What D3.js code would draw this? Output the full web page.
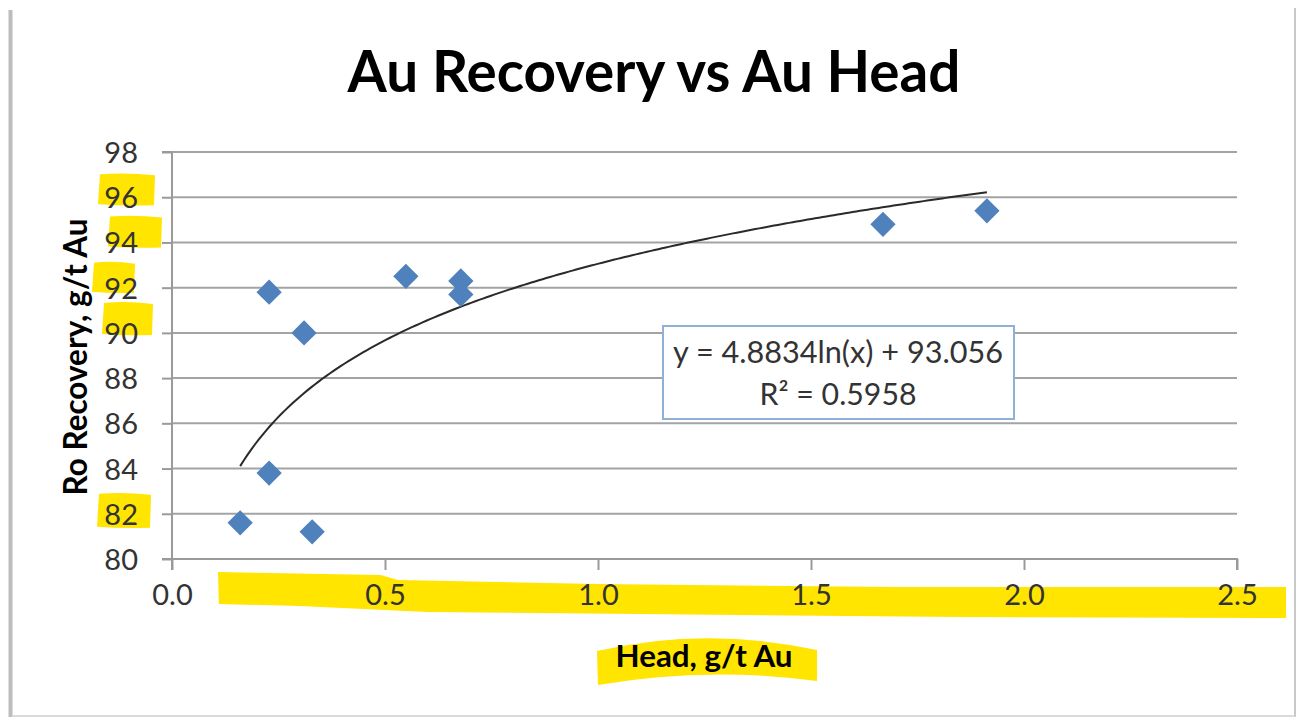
<!DOCTYPE html>
<html><head><meta charset="utf-8">
<script src="https://cdn.jsdelivr.net/npm/d3@7"></script>
<style>html,body{margin:0;padding:0;background:#fff;}svg{display:block;}</style>
</head><body>
<svg id="c" width="1302" height="717"></svg>
<script>
// ---- data ----
const headGt   = [0.160, 0.228, 0.228, 0.310, 0.329, 0.549, 0.678, 0.678, 1.669, 1.913];
const recovery = [81.6, 91.8, 83.8, 90.0, 81.2, 92.5, 92.3, 91.7, 94.8, 95.4];
const xTicks = [0.0, 0.5, 1.0, 1.5, 2.0, 2.5];
const yTicks = [80, 82, 84, 86, 88, 90, 92, 94, 96, 98];
const trendCoef = [4.8834, 93.056]; // y = a ln(x) + b
const trendText = ["y = 4.8834ln(x) + 93.056", "R² = 0.5958"];
const highlightedY = [96, 94, 92, 90, 82];
const title = "Au Recovery vs Au Head";
const xTitle = "Head, g/t Au";
const yTitle = "Ro Recovery, g/t Au";

const svg = d3.select("#c");
const W = 1302, H = 717;
const x = d3.scaleLinear().domain([0, 2.5]).range([172, 1237]);
const y = d3.scaleLinear().domain([80, 98]).range([559, 152]);
const YEL = "#FFE500";
const FONT = "Lato, 'Open Sans', sans-serif";

function fit(sel, target) {
  const n = sel.node();
  const fs = parseFloat(sel.attr("font-size"));
  const w = n.getComputedTextLength();
  if (w > 0) sel.attr("font-size", (fs * target / w).toFixed(2));
}

// frame
svg.append("rect").attr("x",0).attr("y",0).attr("width",W).attr("height",H).attr("fill","#fff");
svg.append("line").attr("x1",10.5).attr("x2",10.5).attr("y1",10).attr("y2",717).attr("stroke","#BDBDBD").attr("stroke-width",4);
svg.append("line").attr("x1",1295).attr("x2",1295).attr("y1",8).attr("y2",717).attr("stroke","#C8C8C8").attr("stroke-width",2);
svg.append("line").attr("x1",12).attr("x2",1295).attr("y1",716).attr("y2",716).attr("stroke","#DADADA").attr("stroke-width",2);

// highlights (hand-drawn marker)
const yHl = {96:[-41,17,-24,8],94:[-31,24,-27,5],92:[-47,-3,-26,5],90:[-37,15,-31,2],82:[-42,13,-21,14]};
highlightedY.forEach(t => {
  const [a,b,c,d] = yHl[t];
  const cy = y(t), rx = 138;
  svg.append("path")
    .attr("d", `M${rx+a+3},${cy+c+1} Q${(rx*2+a+b)/2},${cy+c-1} ${rx+b},${cy+c+2} L${rx+b-1},${cy+d} Q${(rx*2+a+b)/2},${cy+d+1} ${rx+a+1},${cy+d-1} Z`)
    .attr("fill", YEL);
});
svg.append("path")
  .attr("d", `M${x(0.108)},572 L${x(0.49)},575 L${x(0.53)},580 L${x(1.0)},584 L${x(1.7)},587 L1286,587 L1286,618 L${x(1.85)},617 L${x(1.1)},614 L${x(0.6)},612 L${x(0.3)},606 L${x(0.11)},604 Z`)
  .attr("fill", YEL);
svg.append("path")
  .attr("d", "M597,651 Q705,626 817,650 L817,681 Q705,666 598,685 Z")
  .attr("fill", YEL);

// gridlines
svg.append("g").selectAll("line").data(yTicks.filter(t => t > 80)).join("line")
  .attr("x1", x(0)).attr("x2", x(2.5))
  .attr("y1", d => y(d)).attr("y2", d => y(d))
  .attr("stroke", "#A3A3A3").attr("stroke-width", 2);

// axes
const yAx = svg.append("g").attr("transform", `translate(${x(0)},0)`)
  .call(d3.axisLeft(y).tickValues(yTicks).tickSize(10).tickPadding(24).tickFormat(d3.format("d")));
const xAx = svg.append("g").attr("transform", `translate(0,${y(80)})`)
  .call(d3.axisBottom(x).tickValues(xTicks).tickSize(11).tickPadding(14).tickFormat(d3.format(".1f")));
[yAx, xAx].forEach(g => {
  g.select(".domain").attr("stroke", "#9A9A9A").attr("stroke-width", 2);
  g.selectAll(".tick line").attr("stroke", "#9A9A9A").attr("stroke-width", 2);
  g.selectAll(".tick text").attr("font-family", FONT).attr("font-size", 29).attr("fill", "#333");
});
xAx.select(".domain").attr("d", `M${x(0)},11V0H${x(2.5)}V11`);
yAx.select(".domain").attr("d", `M-10,${y(98)}H0V${y(80)}H-10`);
yAx.selectAll(".tick text").attr("dy", "0.36em");
xAx.selectAll(".tick text").attr("dy", "0.74em");

// trendline
const xs = d3.range(0, 201).map(i => d3.min(headGt) + (d3.max(headGt) - d3.min(headGt)) * i / 200);
svg.append("path")
  .datum(xs)
  .attr("d", d3.line().x(d => x(d)).y(d => y(trendCoef[0] * Math.log(d) + trendCoef[1])))
  .attr("fill", "none").attr("stroke", "#2A2A2A").attr("stroke-width", 2);

// points
svg.append("g").selectAll("path").data(headGt.map((h,i) => [h, recovery[i]])).join("path")
  .attr("d", d3.symbol(d3.symbolSquare, 320)())
  .attr("transform", d => `translate(${x(d[0])},${y(d[1])}) rotate(45)`)
  .attr("fill", "#4F81BD");

// trend label box
svg.append("rect").attr("x", 663).attr("y", 326).attr("width", 351).attr("height", 93)
  .attr("fill", "#fff").attr("stroke", "#8FB0D9").attr("stroke-width", 2);
const t1 = svg.append("text").attr("x", 838).attr("y", 363).attr("text-anchor", "middle")
  .attr("font-family", FONT).attr("font-size", 30).attr("fill", "#333").text(trendText[0]);
fit(t1, 330);
const t2 = svg.append("text").attr("x", 838).attr("y", 405).attr("text-anchor", "middle")
  .attr("font-family", FONT).attr("font-size", 30).attr("fill", "#333").text(trendText[1]);
fit(t2, 157);

// titles
const tt = svg.append("text").attr("x", 654).attr("y", 92).attr("text-anchor", "middle")
  .attr("font-family", FONT).attr("font-weight", "bold").attr("font-size", 56).attr("fill", "#000").text(title);
fit(tt, 613);
const xt = svg.append("text").attr("x", 704).attr("y", 667).attr("text-anchor", "middle")
  .attr("font-family", FONT).attr("font-weight", "bold").attr("font-size", 30).attr("fill", "#000").text(xTitle);
fit(xt, 177);
const yt = svg.append("text").attr("transform", "translate(87,357) rotate(-90)").attr("text-anchor", "middle")
  .attr("font-family", FONT).attr("font-weight", "bold").attr("font-size", 30).attr("fill", "#000").text(yTitle);
fit(yt, 277);
</script>
</body></html>
